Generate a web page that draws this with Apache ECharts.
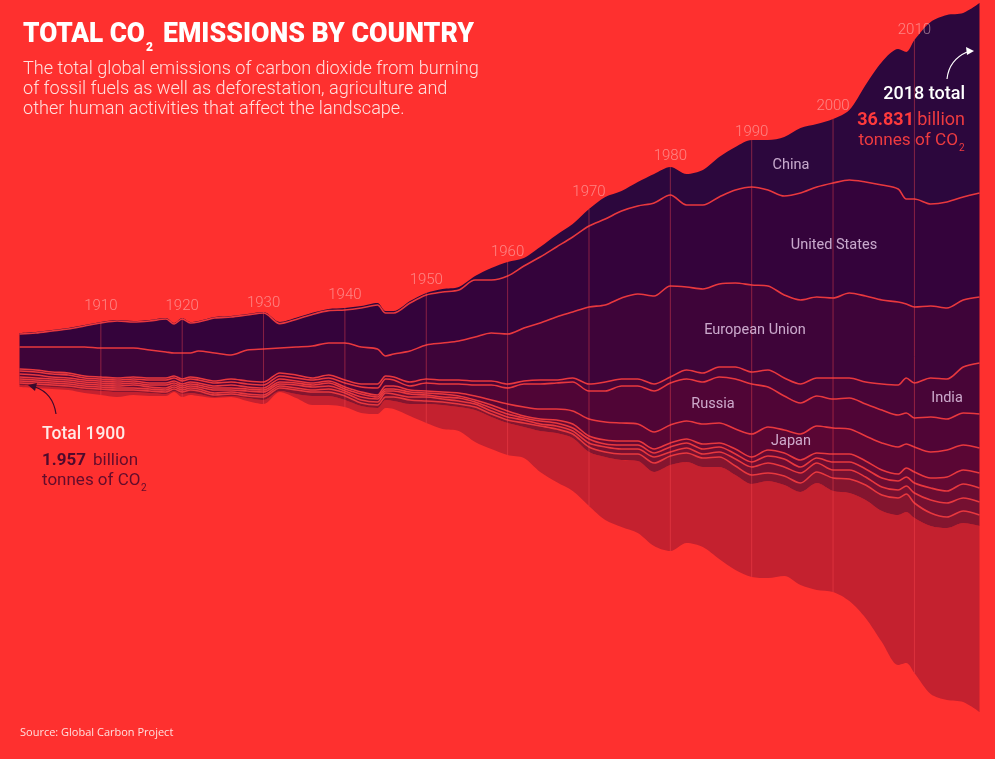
<!DOCTYPE html>
<html>
<head>
<meta charset="utf-8">
<title>Total CO2 emissions by country</title>
<script src="https://cdn.jsdelivr.net/npm/echarts@6/dist/echarts.min.js"></script>
<style>
    html, body { margin: 0; padding: 0; background: #fe302f; }
    #chart { width: 995px; height: 759px; }
</style>
</head>
<body>
<div id="chart"></div>
<script>
// years (every 2 years plus the sharp dips)
var years = [
    1900, 1902, 1904, 1906, 1908, 1910, 1912, 1914, 1916, 1918,
    1919, 1920, 1921, 1922, 1924, 1926, 1928, 1930, 1932, 1934,
    1936, 1938, 1940, 1942, 1944, 1945, 1946, 1948, 1950, 1952,
    1954, 1956, 1958, 1960, 1962, 1964, 1966, 1968, 1970, 1972,
    1974, 1976, 1978, 1980, 1982, 1984, 1986, 1988, 1990, 1992,
    1994, 1996, 1998, 2000, 2002, 2004, 2006, 2008, 2009, 2010,
    2012, 2014, 2016, 2018
];

// band thickness, billion tonnes
var china = [
    .05, .05, .05, .05, .05, .05, .05, .05, .05, .05,
    .05, .05, .05, .05, .05, .05, .05, .05, .08, .08,
    .08, .08, .1, .1, .1, .1, .1, .1, .1, .15,
    .15, .2, .6, .7, .4, .5, .6, .65, .85, 1.1,
    1, 1.2, 1.45, 1.4, 1.55, 1.75, 2, 2.15, 2.35, 2.5,
    2.95, 3.25, 3.15, 3.2, 3.5, 4.85, 6.15, 7, 7.35, 7.95,
    9.1, 9.35, 9.2, 9.5
];
var usa = [
    .65, .7, .8, .9, 1.05, 1.25, 1.35, 1.3, 1.45, 1.65,
    1.45, 1.7, 1.5, 1.45, 1.75, 1.9, 1.75, 1.8, 1.22, 1.38,
    1.58, 1.62, 1.65, 1.95, 2.2, 2.15, 2.05, 2.4, 2.5, 2.55,
    2.55, 2.85, 2.65, 2.9, 3.1, 3.3, 3.5, 3.75, 4.05, 4.3,
    4.35, 4.4, 4.65, 4.55, 4.1, 4.2, 4.35, 4.65, 4.9, 4.8,
    4.95, 5.35, 5.5, 5.75, 5.65, 5.7, 5.75, 5.65, 5.25, 5.4,
    5.1, 5.3, 5.15, 5.2
];
var eu = [
    1.1, 1.15, 1.25, 1.3, 1.45, 1.45, 1.5, 1.45, 1.4, 1.3,
    1.15, 1.3, 1.2, 1.35, 1.4, 1.2, 1.55, 1.65, 1.25, 1.4,
    1.6, 1.6, 1.85, 1.85, 1.75, 1, 1.15, 1.55, 1.7, 1.85,
    1.95, 2.2, 2.4, 2.5, 2.65, 2.85, 3.15, 3.3, 3.85, 3.85,
    4.05, 4.25, 4.4, 4.55, 4.15, 4.2, 4.15, 4.2, 4.35, 4.2,
    4.15, 4.2, 4.05, 4, 4.25, 4.3, 4.2, 4.15, 3.7, 3.8,
    3.6, 3.55, 3.35, 3.3
];
var india = [
    .1, .1, .1, .1, .1, .1, .1, .1, .1, .1,
    .1, .1, .1, .1, .1, .15, .15, .15, .15, .15,
    .1, .15, .15, .15, .2, .15, .15, .2, .2, .2,
    .2, .2, .2, .2, .15, .2, .15, .2, .35, .45,
    .35, .35, .35, .3, .45, .45, .5, .6, .6, .85,
    .9, .95, .9, 1.05, 1, 1.1, 1.3, 1.5, 1.75, 1.75,
    1.95, 2, 2.3, 2.55
];
var russia = [
    .15, .15, .15, .15, .1, .1, .1, .1, .15, .15,
    .15, .15, .15, .15, .15, .15, .15, .15, .15, .15,
    .15, .15, .2, .25, .35, .35, .3, .2, .4, .4,
    .45, .55, .75, .8, 1.15, 1.25, 1.3, 1.45, 1.4, 1.55,
    1.85, 1.9, 2.05, 2.1, 2.1, 2.1, 2.3, 2.5, 2.5, 2,
    1.7, 1.55, 1.5, 1.45, 1.55, 1.6, 1.65, 1.6, 1.55, 1.45,
    1.75, 1.55, 1.6, 1.7
];
var japan = [
    .15, .15, .1, .1, .1, .1, .1, .1, .1, .1,
    .1, .1, .1, .1, .1, .15, .1, .1, .15, .1,
    .1, .1, .1, .1, .1, .15, .15, .1, .1, .1,
    .15, .2, .25, .35, .45, .5, .55, .65, .85, .9,
    .9, .85, .85, .9, .9, 1, 1, 1, 1.15, 1.15,
    1.15, 1.3, 1.35, 1.3, 1.25, 1.25, 1.35, 1.35, 1.2, 1.25,
    1.3, 1.35, 1.25, 1.25
];
// unlabelled countries under Japan
var countryA = [
    .1, .1, .1, .1, .1, .1, .1, .1, .1, .15,
    .1, .1, .1, .1, .1, .1, .1, .1, .1, .1,
    .1, .15, .1, .15, .1, .1, .1, .1, .1, .15,
    .1, .1, .15, .15, .1, .1, .15, .2, .15, .2,
    .2, .2, .2, .2, .2, .25, .2, .25, .25, .3,
    .3, .35, .25, .4, .4, .4, .4, .35, .45, .55,
    .5, .7, .7, .75
];
var countryB = [
    .1, .1, .1, .1, .1, .1, .1, .15, .1, .1,
    .1, .1, .1, .1, .15, .1, .15, .15, .1, .15,
    .15, .15, .1, .15, .15, .1, .15, .15, .1, .1,
    .15, .1, .15, .15, .1, .15, .15, .15, .2, .15,
    .2, .2, .2, .25, .25, .25, .25, .25, .25, .35,
    .4, .3, .25, .4, .4, .4, .45, .45, .45, .5,
    .6, .6, .7, .7
];
var countryC = [
    .1, .1, .1, .1, .1, .1, .1, .1, .1, .1,
    .1, .1, .1, .1, .1, .1, .1, .1, .1, .1,
    .1, .15, .15, .15, .15, .2, .15, .15, .2, .15,
    .15, .15, .15, .15, .15, .1, .15, .15, .2, .25,
    .25, .25, .3, .2, .25, .2, .25, .35, .4, .5,
    .45, .5, .45, .4, .45, .4, .4, .4, .4, .5,
    .65, .7, .65, .65
];
var countryD = [
    .1, .1, .1, .1, .1, .1, .1, .1, .1, .1,
    .1, .1, .15, .15, .1, .1, .1, .15, .15, .2,
    .2, .2, .2, .15, .15, .15, .2, .2, .15, .15,
    .15, .15, .15, .15, .2, .25, .2, .2, .25, .25,
    .3, .35, .45, .45, .45, .45, .5, .45, .45, .4,
    .45, .45, .55, .65, .7, .75, .8, .85, .9, .75,
    .65, .55, .6, .55
];
var restOfWorld = [
    .1, .1, .1, .1, .15, .2, .25, .15, .15, .1,
    .05, .15, .1, .1, .05, .05, .15, .2, .05, .2,
    .45, .45, .35, .35, .3, .4, .4, .6, .95, 1.2,
    1.2, 1.6, 1.6, 1.6, 1.55, 2.05, 2.45, 2.65, 2.7, 3.15,
    3.35, 3.6, 3.7, 4.3, 4.05, 4, 4.6, 4.75, 4.65, 4.85,
    4.55, 4.65, 5.35, 5.05, 5.4, 5.9, 6.55, 7.5, 7.55, 7.75,
    8.4, 8.6, 8.95, 9.3
];
// invisible bottom band, it is what makes the stack a stream
var streamOffset = [
    18.6, 18.55, 18.5, 18.45, 18.3, 18.2, 18.1, 18.2, 18.15, 18.15,
    18.35, 18.1, 18.2, 18.15, 18.05, 18.1, 17.9, 17.75, 18.35, 18.05,
    17.7, 17.7, 17.6, 17.3, 17.25, 17.55, 17.5, 17.15, 16.8, 16.5,
    16.4, 15.85, 15.5, 15.2, 15.05, 14.35, 13.85, 13.4, 12.65, 11.95,
    11.6, 11.3, 10.65, 10.4, 10.8, 10.6, 10, 9.45, 9.1, 9.05,
    9.15, 8.7, 8.45, 8.35, 7.9, 7.05, 5.85, 4.7, 4.8, 4.3,
    3.25, 2.95, 2.85, 2.35
];
var decades = [1910, 1920, 1930, 1940, 1950, 1960, 1970, 1980, 1990, 2000, 2010];

var BG = '#fe302f';
var LINE = '#e8383e';
var FONT = 'Roboto, sans-serif';
// px between the top of the stream and each decade label
var labelLift = [16, 12, 9, 13, 13, 10, 17, 11, 8, 13, 10];

var bands = [
    { name: 'Rest of world', data: restOfWorld, color: '#c4212f', line: false },
    { name: 'Country D', data: countryD, color: '#84152f', line: true },
    { name: 'Country C', data: countryC, color: '#751031', line: true },
    { name: 'Country B', data: countryB, color: '#6b0c32', line: true },
    { name: 'Country A', data: countryA, color: '#640933', line: true },
    { name: 'Japan', data: japan, color: '#5a0634', line: true },
    { name: 'Russia', data: russia, color: '#500536', line: true },
    { name: 'India', data: india, color: '#480537', line: true },
    { name: 'European Union', data: eu, color: '#3e0439', line: true },
    { name: 'United States', data: usa, color: '#34033b', line: true },
    { name: 'China', data: china, color: '#2c073d', line: false }
];

// a time axis, because on a value axis the stack would pile up the years
function yearTime(year) {
    return Date.UTC(year, 0, 1);
}

function stackSeries(name, values, color, hasLine) {
    return {
        name: name,
        type: 'line',
        stack: 'co2',
        data: values.map(function (v, i) { return [yearTime(years[i]), v]; }),
        symbol: 'none',
        smooth: 0.3,
        lineStyle: hasLine ? { width: 1.6, color: LINE } : { width: 0 },
        areaStyle: color ? { color: color, opacity: 1 } : { opacity: 0 },
        silent: true
    };
}

// decade rule + year label, from bottom to top of the stream
var decadeData = decades.map(function (year) {
    var i = years.indexOf(year);
    var top = streamOffset[i];
    bands.forEach(function (b) { top += b.data[i]; });
    return [yearTime(year), streamOffset[i], top];
});

function renderDecade(params, api) {
    var bottom = api.coord([api.value(0), api.value(1)]);
    var top = api.coord([api.value(0), api.value(2)]);
    return {
        type: 'group',
        children: [{
            type: 'line',
            shape: { x1: top[0], y1: top[1], x2: bottom[0], y2: bottom[1] },
            style: { stroke: 'rgba(255,75,80,0.42)', lineWidth: 1 }
        }, {
            type: 'text',
            x: top[0],
            y: top[1] - labelLift[params.dataIndex],
            style: {
                text: String(decades[params.dataIndex]),
                fontFamily: FONT,
                fontSize: 15,
                fontWeight: 300,
                fill: 'rgba(255,215,215,0.5)',
                align: 'center',
                verticalAlign: 'middle'
            }
        }]
    };
}

function txt(text, x, y, size, weight, fill, align, family) {
    return {
        type: 'text',
        x: x,
        y: y + 1.5,
        z: 100,
        silent: true,
        style: {
            text: text,
            fontFamily: family || FONT,
            fontSize: size,
            fontWeight: weight,
            fill: fill,
            align: align || 'left',
            verticalAlign: 'middle'
        }
    };
}

function arrow(x1, y1, cx, cy, x2, y2, head, color) {
    return [{
        type: 'bezierCurve',
        z: 100,
        silent: true,
        shape: { x1: x1, y1: y1, cpx1: cx, cpy1: cy, x2: x2, y2: y2 },
        style: { stroke: color, lineWidth: 1.2, fill: null }
    }, {
        type: 'polygon',
        z: 100,
        silent: true,
        shape: { points: head },
        style: { fill: color }
    }];
}

function titlePart(text, x, y, size, scaleX) {
    var el = txt(text, x, y, size, 900, '#ffffff');
    el.scaleX = scaleX;
    return el;
}

var COUNTRY = 'rgba(232,205,235,0.82)';
var DARK = '#620c2c';
var graphics = [
    titlePart('TOTAL CO', 23, 33.5, 28, 0.935),
    titlePart('2', 146, 46, 12, 1),
    titlePart('EMISSIONS BY COUNTRY', 163, 33.5, 28, 0.954),
    txt('The total global emissions of carbon dioxide from burning', 23, 68, 18.1, 300, '#ffe0de'),
    txt('of fossil fuels as well as deforestation, agriculture and', 23, 88, 18.1, 300, '#ffe0de'),
    txt('other human activities that affect the landscape.', 23, 108, 18.1, 300, '#ffe0de'),
    txt('China', 791, 164, 14.5, 400, COUNTRY, 'center'),
    txt('United States', 834, 244, 14.5, 400, COUNTRY, 'center'),
    txt('European Union', 755, 329, 14.5, 400, COUNTRY, 'center'),
    txt('Russia', 713, 403, 14.5, 400, COUNTRY, 'center'),
    txt('Japan', 791, 440, 14.5, 400, COUNTRY, 'center'),
    txt('India', 947, 397, 14.5, 400, COUNTRY, 'center'),
    txt('2018 total', 965, 93, 18, 500, '#ffffff', 'right'),
    txt('36.831', 914, 119, 18, 700, '#ff3a3c', 'right'),
    txt('billion', 965, 119, 18, 400, '#ee3b40', 'right'),
    txt('tonnes of CO', 958, 139, 17.2, 400, '#ee3b40', 'right'),
    txt('2', 959, 147, 10, 400, '#ee3b40'),
    txt('Total 1900', 42, 433, 17.5, 500, '#ffe9e6'),
    txt('1.957', 42, 459, 17, 700, '#4f0a2c'),
    txt('billion', 93, 459, 17, 400, DARK),
    txt('tonnes of CO', 42, 479, 17, 400, DARK),
    txt('2', 141, 487, 10, 400, DARK),
    txt('Source: Global Carbon Project', 20, 731, 11, 400, '#ffe0de', 'left', '"Open Sans", sans-serif')
]
    .concat(arrow(947, 79, 949, 60, 967, 52, [[974, 51], [966, 47], [967, 55]], '#ffffff'))
    .concat(arrow(56, 414, 53, 393, 35, 387, [[28, 385], [37, 383], [35, 391]], '#3a0a2c'));

var series = [stackSeries('offset', streamOffset, null, false)];
bands.forEach(function (b) {
    series.push(stackSeries(b.name, b.data, b.color, b.line));
});
series.push({
    type: 'custom',
    data: decadeData,
    renderItem: renderDecade,
    clip: false,
    silent: true,
    z: 5
});

var myChart = echarts.init(document.getElementById('chart'));
myChart.setOption({
    animation: false,
    backgroundColor: BG,
    grid: { left: 19.5, top: 0, width: 960, height: 759 },
    xAxis: { type: 'time', min: yearTime(1900), max: yearTime(2018), show: false },
    yAxis: { type: 'value', min: 0, max: 37.95, show: false },
    graphic: graphics,
    series: series
});
</script>
</body>
</html>
